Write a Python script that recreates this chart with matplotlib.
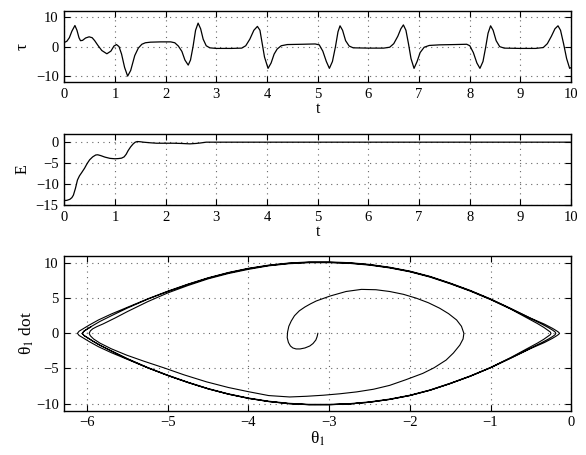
import matplotlib.pyplot as plt
import numpy as np

# torque tau(t)
t_tau = [0.00, 0.05, 0.10, 0.15, 0.21, 0.25, 0.29, 0.32, 0.36, 0.42, 0.49, 0.55, 0.60, 0.66,
         0.74, 0.84, 0.92, 0.98, 1.03, 1.08, 1.13, 1.19, 1.25, 1.31, 1.39, 1.46, 1.53, 1.60,
         1.70, 1.90, 2.10, 2.18, 2.25, 2.32, 2.38, 2.445, 2.49, 2.54, 2.59, 2.64, 2.69, 2.74,
         2.80, 2.87, 3.00, 3.30, 3.50, 3.58, 3.66, 3.74, 3.81, 3.86, 3.90, 3.95, 4.02, 4.08,
         4.14, 4.20, 4.28, 4.40, 4.70, 4.95, 5.03, 5.10, 5.17, 5.23, 5.29, 5.35, 5.40, 5.44,
         5.49, 5.55, 5.62, 5.70, 6.00, 6.30, 6.42, 6.50, 6.58, 6.64, 6.69, 6.74, 6.79, 6.84,
         6.90, 6.96, 7.02, 7.10, 7.20, 7.40, 7.70, 7.94, 8.00, 8.07, 8.14, 8.20, 8.26, 8.31,
         8.36, 8.41, 8.46, 8.52, 8.59, 8.68, 9.00, 9.30, 9.45, 9.53, 9.61, 9.68, 9.74, 9.79,
         9.85, 9.91, 9.97, 10.00]
tau = [1.4, 1.8, 3.0, 5.2, 7.1, 5.5, 3.0, 2.0, 2.1, 2.9, 3.3, 3.0, 2.0, 0.5,
       -1.3, -2.4, -1.5, 0.2, 0.7, 0.0, -2.5, -7.0, -9.9, -8.0, -3.0, -0.5, 0.8, 1.3,
       1.5, 1.6, 1.6, 1.3, 0.2, -1.6, -4.5, -6.2, -4.5, 0.0, 5.5, 7.9, 6.0, 2.5,
       0.3, -0.4, -0.6, -0.6, -0.5, 0.3, 2.5, 5.5, 6.8, 5.5, 1.5, -3.5, -7.3, -5.5,
       -2.5, -0.8, 0.3, 0.7, 0.8, 0.9, 0.6, -1.5, -5.0, -7.3, -5.0, 0.0, 5.0, 7.0,
       5.5, 2.0, 0.2, -0.4, -0.5, -0.5, -0.2, 1.0, 3.5, 6.0, 7.3, 5.5, 1.0, -4.0,
       -7.3, -5.0, -2.0, -0.2, 0.4, 0.6, 0.7, 0.8, 0.3, -2.0, -5.5, -7.3, -5.0, -0.5,
       4.5, 7.0, 5.5, 2.0, 0.0, -0.5, -0.6, -0.6, -0.3, 1.0, 3.5, 6.0, 7.0, 5.5,
       1.0, -4.0, -7.3, -7.0]

# energy E(t), middle panel
t_E = [0.00, 0.05, 0.11, 0.15, 0.18, 0.22, 0.26, 0.30, 0.34, 0.40, 0.45, 0.50, 0.56, 0.62,
       0.66, 0.72, 0.80, 0.90, 1.00, 1.07, 1.13, 1.18, 1.22, 1.26, 1.31, 1.36, 1.40, 1.44,
       1.50, 1.56, 1.70, 1.82, 2.00, 2.15, 2.30, 2.48, 2.60, 2.68, 2.80, 3.50, 10.00]
E = [-13.9, -13.85, -13.6, -13.2, -12.6, -11.0, -9.0, -8.0, -7.3, -6.2, -5.1, -4.2, -3.5, -3.05,
     -3.0, -3.2, -3.55, -3.85, -3.95, -3.9, -3.8, -3.5, -2.9, -2.0, -1.1, -0.4, 0.0, 0.15,
     0.1, 0.0, -0.15, -0.25, -0.25, -0.25, -0.3, -0.4, -0.3, -0.2, 0.0, 0.0, 0.0]

# phase portrait, bottom panel, one list pair per swing
th_start = [-3.14, -3.15, -3.165, -3.20, -3.24, -3.30, -3.36, -3.41, -3.45, -3.48, -3.505, -3.52,
            -3.515, -3.50, -3.47, -3.43, -3.37, -3.30, -3.23, -3.16, -2.99, -2.79, -2.60, -2.42,
            -2.25, -2.08, -1.92, -1.77, -1.63, -1.52, -1.42, -1.36, -1.33, -1.34, -1.38, -1.46,
            -1.55, -1.70, -1.84, -2.05, -2.25, -2.45, -2.66, -2.87, -3.07, -3.28, -3.49, -3.75,
            -4.00, -4.25, -4.52, -4.80, -5.05, -5.30, -5.51, -5.70, -5.84, -5.92, -5.96, -5.975]
om_start = [0.0, -0.5, -0.95, -1.45, -1.8, -2.08, -2.22, -2.22, -2.08, -1.8, -1.3, -0.6,
            0.2, 1.0, 1.75, 2.5, 3.2, 3.75, 4.2, 4.6, 5.3, 5.95, 6.25, 6.2,
            5.95, 5.55, 5.0, 4.35, 3.57, 2.8, 1.9, 1.0, 0.0, -0.8, -1.67, -2.8,
            -3.8, -4.9, -5.7, -6.6, -7.4, -7.95, -8.33, -8.6, -8.8, -8.95, -9.05, -8.85,
            -8.3, -7.7, -6.9, -5.9, -4.9, -3.95, -3.1, -2.2, -1.4, -0.8, -0.35, 0.0]

th_up1 = [-5.975, -5.96, -5.93, -5.88, -5.80, -5.65, -5.5, -5.25, -5.0, -4.75, -4.5, -4.25,
          -4.0, -3.75, -3.5, -3.25, -3.0, -2.75, -2.5, -2.25, -2.0, -1.75, -1.5, -1.25,
          -1.0, -0.75, -0.55, -0.42, -0.34, -0.29, -0.26, -0.25]
om_up1 = [0.0, 0.35, 0.65, 0.95, 1.35, 2.2, 3.1, 4.5, 5.75, 6.8, 7.75, 8.5,
          9.1, 9.6, 9.9, 10.05, 10.05, 9.95, 9.7, 9.3, 8.75, 8.0, 7.05, 6.0,
          4.8, 3.45, 2.2, 1.4, 0.85, 0.45, 0.2, 0.0]

th_dn1 = [-0.25, -0.26, -0.29, -0.34, -0.42, -0.55, -0.75, -1.0, -1.25, -1.5, -1.75, -2.0,
          -2.25, -2.5, -2.75, -3.0, -3.25, -3.5, -3.75, -4.0, -4.25, -4.5, -4.75, -5.0,
          -5.25, -5.5, -5.7, -5.84, -5.93, -6.0, -6.04, -6.06]
om_dn1 = [0.0, -0.2, -0.45, -0.85, -1.4, -2.2, -3.45, -4.85, -6.05, -7.1, -8.05, -8.8,
          -9.35, -9.75, -10.0, -10.1, -10.1, -9.95, -9.65, -9.2, -8.6, -7.85, -6.95, -5.95,
          -4.85, -3.6, -2.5, -1.7, -1.1, -0.6, -0.3, 0.0]

th_up2 = [-6.06, -6.04, -6.0, -5.93, -5.84, -5.7, -5.5, -5.25, -5.0, -4.75, -4.5, -4.25,
          -4.0, -3.75, -3.5, -3.25, -3.0, -2.75, -2.5, -2.25, -2.0, -1.75, -1.5, -1.25,
          -1.0, -0.75, -0.5, -0.37, -0.28, -0.23, -0.20, -0.19]
om_up2 = [0.0, 0.3, 0.6, 1.1, 1.7, 2.5, 3.6, 4.85, 5.95, 6.95, 7.85, 8.6,
          9.2, 9.65, 9.95, 10.1, 10.1, 10.0, 9.75, 9.35, 8.8, 8.05, 7.1, 6.05,
          4.85, 3.5, 2.1, 1.35, 0.8, 0.45, 0.2, 0.0]

th_dn2 = [-0.19, -0.20, -0.23, -0.28, -0.37, -0.5, -0.75, -1.0, -1.25, -1.5, -1.75, -2.0,
          -2.25, -2.5, -2.75, -3.0, -3.25, -3.5, -3.75, -4.0, -4.25, -4.5, -4.75, -5.0,
          -5.25, -5.5, -5.7, -5.86, -5.97, -6.05, -6.10, -6.12]
om_dn2 = [0.0, -0.2, -0.45, -0.8, -1.35, -2.1, -3.5, -4.9, -6.1, -7.15, -8.1, -8.85,
          -9.4, -9.8, -10.05, -10.15, -10.15, -10.0, -9.7, -9.25, -8.65, -7.9, -7.0, -6.0,
          -4.9, -3.7, -2.75, -1.9, -1.2, -0.65, -0.3, 0.0]

th_up3 = [-6.12, -6.10, -6.05, -5.97, -5.86, -5.7, -5.5, -5.25, -5.0, -4.75, -4.5, -4.25,
          -4.0, -3.75, -3.5, -3.25, -3.0, -2.75, -2.5, -2.25, -2.0, -1.75, -1.5, -1.25,
          -1.0, -0.75, -0.5, -0.33, -0.23, -0.18, -0.155, -0.145]
om_up3 = [0.0, 0.3, 0.65, 1.2, 1.9, 2.75, 3.7, 4.9, 6.0, 7.0, 7.9, 8.65,
          9.25, 9.7, 10.0, 10.15, 10.15, 10.05, 9.8, 9.4, 8.85, 8.1, 7.15, 6.1,
          4.9, 3.55, 2.15, 1.3, 0.7, 0.35, 0.15, 0.0]

th_dn3 = [-0.145, -0.155, -0.18, -0.23, -0.33, -0.5, -0.75, -1.0, -1.25, -1.5, -1.75, -2.0,
          -2.25, -2.5, -2.75, -3.0, -3.25, -3.5, -3.75, -4.0, -4.25, -4.5, -4.75, -5.0,
          -5.25, -5.5, -5.7, -5.84, -5.93, -6.0, -6.04, -6.06]
om_dn3 = [0.0, -0.15, -0.35, -0.7, -1.3, -2.15, -3.55, -4.9, -6.1, -7.15, -8.1, -8.85,
          -9.4, -9.8, -10.05, -10.15, -10.15, -10.0, -9.7, -9.25, -8.65, -7.9, -7.0, -6.0,
          -4.9, -3.65, -2.5, -1.7, -1.1, -0.6, -0.3, 0.0]

th_end = [-6.06, -6.04, -6.0, -5.95]
om_end = [0.0, 0.3, 0.6, 0.95]

theta1 = th_start + th_up1 + th_dn1 + th_up2 + th_dn2 + th_up3 + th_dn3 + th_end
theta1_dot = om_start + om_up1 + om_dn1 + om_up2 + om_dn2 + om_up3 + om_dn3 + om_end

plt.rcParams['font.family'] = ['Liberation Serif', 'DejaVu Serif']
plt.rcParams['mathtext.fontset'] = 'stix'
plt.rcParams['font.size'] = 10


def matlab_style(ax):
    ax.tick_params(direction='in', top=True, right=True, length=4, width=0.8,
                   labelsize=10.5, pad=4)
    ax.grid(True, linestyle=(0, (1, 4)), color='0.4', linewidth=0.8)
    for s in ax.spines.values():
        s.set_linewidth(1.0)


fig = plt.figure(figsize=(5.86, 4.55), dpi=100)

ax1 = fig.add_axes([0.1097, 0.819, 0.865, 0.157])
ax1.plot(t_tau, tau, color='k', linewidth=0.9)
ax1.set_xlim(0, 10)
ax1.set_ylim(-12, 12)
ax1.set_xticks(range(0, 11))
ax1.set_yticks([-10, 0, 10])
ax1.set_xlabel('t', fontsize=11.5, labelpad=0)
ax1.set_ylabel('τ', fontsize=12.5)
matlab_style(ax1)

ax2 = fig.add_axes([0.1097, 0.549, 0.865, 0.157])
ax2.plot(t_E, E, color='k', linewidth=0.9)
ax2.set_xlim(0, 10)
ax2.set_ylim(-15, 2)
ax2.set_xticks(range(0, 11))
ax2.set_yticks([-15, -10, -5, 0])
ax2.set_xlabel('t', fontsize=11.5, labelpad=0)
ax2.set_ylabel('E', fontsize=11.5)
matlab_style(ax2)

ax3 = fig.add_axes([0.1097, 0.0974, 0.865, 0.340])
ax3.plot(theta1, theta1_dot, color='k', linewidth=0.8)
ax3.set_xlim(-2 * np.pi, 0)
ax3.set_ylim(-11, 11)
ax3.set_xticks([-6, -5, -4, -3, -2, -1, 0])
ax3.set_yticks([-10, -5, 0, 5, 10])
ax3.set_xlabel('θ$_1$', fontsize=12.5, labelpad=0)
ax3.set_ylabel('θ$_1$ dot', fontsize=12.5, labelpad=0)
matlab_style(ax3)

fig.savefig('out.png', dpi=100)
